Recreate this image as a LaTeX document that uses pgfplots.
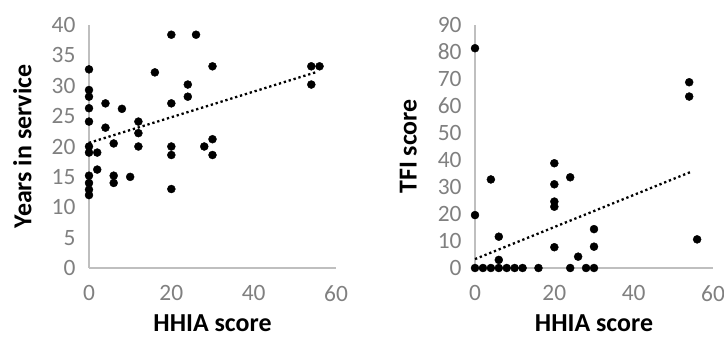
\documentclass[border=0pt]{standalone}
\usepackage{fontspec}
\setmainfont{Carlito}
\usepackage{pgfplots}
\pgfplotsset{compat=1.18}
\definecolor{ticklab}{RGB}{128,128,128}
\definecolor{axline}{RGB}{191,191,191}
\pgfplotsset{
  myax/.style={
    scale only axis,
    axis lines*=left,
    axis line style={axline, line width=1.6bp},
    major tick length=0pt,
    tick style={draw=none},
    xmin=0, xmax=60, ymin=0,
    xtick={0,20,40,60},
    /pgf/number format/assume math mode=true,
    ticklabel style={font=\fontsize{23.5}{25}\selectfont, text=ticklab},
    yticklabel style={xshift=-10bp},
    xticklabel style={yshift=-14bp},
    label style={font=\fontsize{26}{28}\selectfont\bfseries},
    clip=false,
  },
  dots/.style={only marks, mark=*, mark size=4bp, mark options={fill=black, draw=black}},
  trend/.style={black, line width=2.3bp, dash pattern=on 2.3bp off 2.8bp, no marks},
}
\begin{document}
\begin{tikzpicture}
\useasboundingbox (0,0) rectangle (724bp,337bp);
\begin{axis}[myax, at={(89bp,69bp)}, anchor=south west,
  width=247bp, height=243bp, ymax=40, ytick={0,5,...,40},
  xlabel={HHIA score}, ylabel={Years in service},
  x label style={at={(axis description cs:0.5,-0.228)}, anchor=center},
  y label style={at={(axis description cs:-0.27,0.5)}, anchor=center}]
\addplot[dots] coordinates {
(0,32.7)(0,29.3)(0,28.2)(0,26.3)(0,24.1)(0,20)(0,19)(0,15.2)(0,14)(0,12.9)(0,12)
(2,19)(2,16.2)(4,27.1)(4,23.1)(6,20.5)(6,15.2)(6,14)(8,26.2)(10,15)
(12,24.1)(12,22.2)(12,20)(16,32.2)
(20,38.4)(20,27.1)(20,20)(20,18.6)(20,13)
(24,30.2)(24,28.2)(26,38.4)(28,20)(30,33.2)(30,21.2)(30,18.6)
(54,33.2)(54,30.2)(56,33.2)};
\addplot[trend] coordinates {(0,20.6)(55,32.2)};
\end{axis}
\begin{axis}[myax, at={(475bp,69bp)}, anchor=south west,
  width=238bp, height=243bp, ymax=90, ytick={0,10,...,90},
  xlabel={HHIA score}, ylabel={TFI score},
  x label style={at={(axis description cs:0.5,-0.228)}, anchor=center},
  y label style={at={(axis description cs:-0.28,0.5)}, anchor=center}]
\addplot[dots] coordinates {
(0,81.4)(0,19.6)(0,0)(2,0)(4,0)(4,32.8)(6,11.6)(6,3)(6,0)(8,0)(10,0)(12,0)(16,0)
(20,38.8)(20,31)(20,24.6)(20,22.7)(20,7.7)(24,33.6)(24,0)(26,4.2)(28,0)
(30,14.4)(30,7.9)(30,0)(54,68.8)(54,63.5)(56,10.6)};
\addplot[trend] coordinates {(0,3.3)(54.6,35.7)};
\end{axis}
\end{tikzpicture}
\end{document}
